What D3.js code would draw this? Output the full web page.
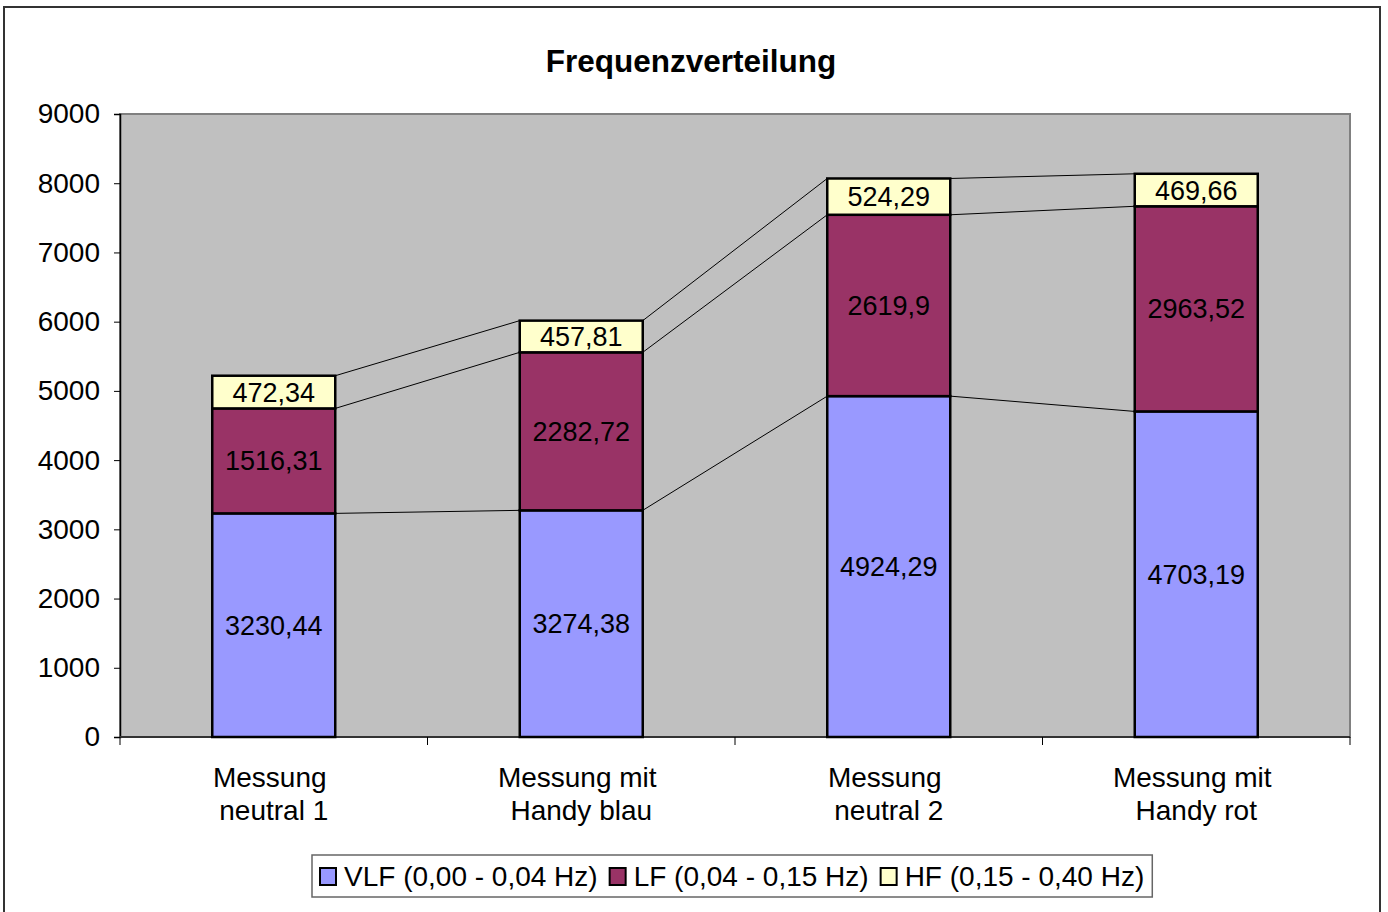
<!DOCTYPE html>
<html>
<head>
<meta charset="utf-8">
<script src="https://cdn.jsdelivr.net/npm/d3@7"></script>
<style>
  body { margin: 0; background: #fff; }
  text { font-family: "Liberation Sans", Arial, sans-serif; fill: #000; }
</style>
</head>
<body>
<div id="chart"></div>
<script>
const categories = [["Messung", "neutral 1"], ["Messung mit", "Handy blau"], ["Messung", "neutral 2"], ["Messung mit", "Handy rot"]];
const seriesNames = ["VLF (0,00 - 0,04 Hz)", "LF (0,04 - 0,15 Hz)", "HF (0,15 - 0,40 Hz)"];
const seriesColors = ["#9999FF", "#993366", "#FFFFCC"];
const vlf = [3230.44, 3274.38, 4924.29, 4703.19];
const lf = [1516.31, 2282.72, 2619.9, 2963.52];
const hf = [472.34, 457.81, 524.29, 469.66];
const yTicks = [0, 1000, 2000, 3000, 4000, 5000, 6000, 7000, 8000, 9000];

const W = 1388, H = 912;
const plot = {left: 120, right: 1350, top: 114, bottom: 737};

const svg = d3.select("#chart").append("svg")
  .attr("width", W).attr("height", H);

// outer chart frame
svg.append("rect")
  .attr("x", 4).attr("y", 7).attr("width", 1376).attr("height", 930)
  .attr("fill", "#fff").attr("stroke", "#333").attr("stroke-width", 2);

// title
svg.append("text")
  .attr("x", 691).attr("y", 72)
  .attr("text-anchor", "middle")
  .style("font-size", "31.5px").style("font-weight", "bold")
  .text("Frequenzverteilung");

const keys = ["vlf", "lf", "hf"];
const rows = categories.map((c, i) => ({idx: i, vlf: vlf[i], lf: lf[i], hf: hf[i]}));
const stacked = d3.stack().keys(keys)(rows);

const x = d3.scaleBand()
  .domain(d3.range(categories.length))
  .range([plot.left, plot.right])
  .paddingInner(0.6).paddingOuter(0.3);
const step = x.step();

const y = d3.scaleLinear().domain([0, 9000]).range([plot.bottom, plot.top]);

// plot area
svg.append("rect")
  .attr("x", plot.left).attr("y", plot.top)
  .attr("width", plot.right - plot.left).attr("height", plot.bottom - plot.top)
  .attr("fill", "#C0C0C0").attr("stroke", "#808080").attr("stroke-width", 2);

// y axis
const yAxis = svg.append("g")
  .attr("transform", `translate(${plot.left},0)`)
  .call(d3.axisLeft(y).tickValues(yTicks).tickSize(6).tickPadding(14).tickFormat(d3.format("d")));
yAxis.select(".domain").attr("stroke", "#000").attr("stroke-width", 1.5);
yAxis.selectAll(".tick line").attr("stroke", "#000");
yAxis.selectAll(".tick text")
  .style("font-size", "28px").style("font-family", "'Liberation Sans', Arial, sans-serif")
  .attr("fill", "#000");

// x axis with ticks between categories
const xAxisG = svg.append("g");
xAxisG.append("line")
  .attr("x1", plot.left).attr("x2", plot.right)
  .attr("y1", plot.bottom).attr("y2", plot.bottom)
  .attr("stroke", "#333").attr("stroke-width", 2);
d3.range(categories.length + 1).forEach(i => {
  const xx = plot.left + i * step;
  xAxisG.append("line")
    .attr("x1", xx).attr("x2", xx)
    .attr("y1", plot.bottom).attr("y2", plot.bottom + 8)
    .attr("stroke", "#000").attr("stroke-width", 1);
});
categories.forEach((c, i) => {
  const cx = plot.left + (i + 0.5) * step;
  c.forEach((line, j) => {
    xAxisG.append("text")
      .attr("x", cx).attr("y", 787 + j * 33)
      .attr("dx", j === 0 ? -4 : 0)
      .attr("text-anchor", "middle")
      .style("font-size", "28px")
      .text(line);
  });
});

// series lines connecting stack tops
const linesG = svg.append("g");
stacked.forEach(s => {
  for (let i = 0; i < s.length - 1; i++) {
    linesG.append("line")
      .attr("x1", x(i) + x.bandwidth()).attr("y1", y(s[i][1]))
      .attr("x2", x(i + 1)).attr("y2", y(s[i + 1][1]))
      .attr("stroke", "#000").attr("stroke-width", 1);
  }
});

// bars
const barsG = svg.append("g");
stacked.forEach((s, k) => {
  barsG.selectAll(null).data(s).join("rect")
    .attr("x", (d, i) => x(i))
    .attr("y", d => y(d[1]))
    .attr("width", x.bandwidth())
    .attr("height", d => y(d[0]) - y(d[1]))
    .attr("fill", seriesColors[k])
    .attr("stroke", "#000").attr("stroke-width", 2.5);
});

// value labels
const fmt = v => String(v).replace(".", ",");
stacked.forEach(s => {
  barsG.selectAll(null).data(s).join("text")
    .attr("x", (d, i) => x(i) + x.bandwidth() / 2)
    .attr("y", d => (y(d[0]) + y(d[1])) / 2 + 9.5)
    .attr("text-anchor", "middle")
    .style("font-size", "27px")
    .text(d => fmt(d.data[s.key]));
});

// legend
const legend = svg.append("g");
const legendBox = legend.append("rect")
  .attr("y", 855).attr("height", 42)
  .attr("fill", "#fff").attr("stroke", "#666").attr("stroke-width", 1.5);
let lx = 320;
seriesNames.forEach((name, k) => {
  legend.append("rect")
    .attr("x", lx).attr("y", 868).attr("width", 16).attr("height", 17)
    .attr("fill", seriesColors[k]).attr("stroke", "#000").attr("stroke-width", 2);
  const t = legend.append("text")
    .attr("x", lx + 24).attr("y", 886)
    .style("font-size", "28px")
    .text(name);
  lx += 24 + t.node().getComputedTextLength() + 12;
});
legendBox.attr("x", 312).attr("width", lx - 12 + 8 - 312);
</script>
</body>
</html>
